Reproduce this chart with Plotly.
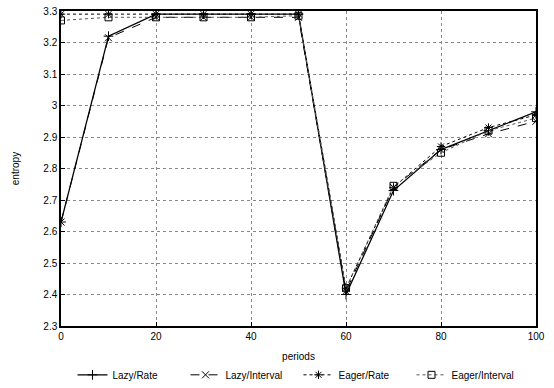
import plotly.graph_objects as go

periods = [0, 10, 20, 30, 40, 50, 60, 70, 80, 90, 100]
lazy_rate = [2.63, 3.22, 3.29, 3.29, 3.29, 3.29, 2.40, 2.73, 2.86, 2.92, 2.98]
lazy_interval = [2.63, 3.215, 3.28, 3.28, 3.28, 3.28, 2.41, 2.74, 2.86, 2.91, 2.95]
eager_rate = [3.29, 3.29, 3.29, 3.29, 3.29, 3.29, 2.42, 2.74, 2.87, 2.93, 2.97]
eager_interval = [3.27, 3.28, 3.28, 3.28, 3.28, 3.285, 2.42, 2.745, 2.85, 2.92, 2.96]

series = [
    ("Lazy/Rate", lazy_rate, "solid", "cross-thin-open", "black", 1.3),
    ("Lazy/Interval", lazy_interval, "dash", "x-thin-open", "black", 1.0),
    ("Eager/Rate", eager_rate, "dot", "asterisk-open", "black", 1.0),
    ("Eager/Interval", eager_interval, "dot", "square-open", "#555555", 1.0),
]

fig = go.Figure()
for name, vals, dash, sym, col, w in series:
    fig.add_trace(go.Scatter(
        x=periods, y=vals, name=name, mode="lines+markers",
        line=dict(color=col, dash=dash, width=w),
        marker=dict(symbol=sym, size=7, color="black", line=dict(color="black", width=1)),
    ))

axis_common = dict(
    showline=True, linecolor="black", linewidth=1.5, mirror=True,
    ticks="inside", ticklen=4, tickcolor="black",
    showgrid=True, gridcolor="#888888", griddash="dot", gridwidth=1,
    zeroline=False, tickfont=dict(size=10, color="black"),
)

fig.update_layout(
    width=554, height=388,
    margin=dict(l=61, r=18, t=11, b=62, autoexpand=False),
    paper_bgcolor="white", plot_bgcolor="white",
    font=dict(family="Liberation Sans, Arial, sans-serif", size=10, color="black"),
    xaxis=dict(range=[0, 100], dtick=20,
               title=dict(text="periods", font=dict(size=10), standoff=12),
               **axis_common),
    yaxis=dict(range=[2.3, 3.3], dtick=0.1, tickformat="~g",
               title=dict(text="entropy", font=dict(size=10), standoff=22),
               **axis_common),
    legend=dict(orientation="h", x=0.5, xanchor="center", y=-0.155, yanchor="middle",
                font=dict(size=10), entrywidth=68, itemwidth=30, bgcolor="rgba(0,0,0,0)"),
    showlegend=True,
)

fig.write_html("out.html")
